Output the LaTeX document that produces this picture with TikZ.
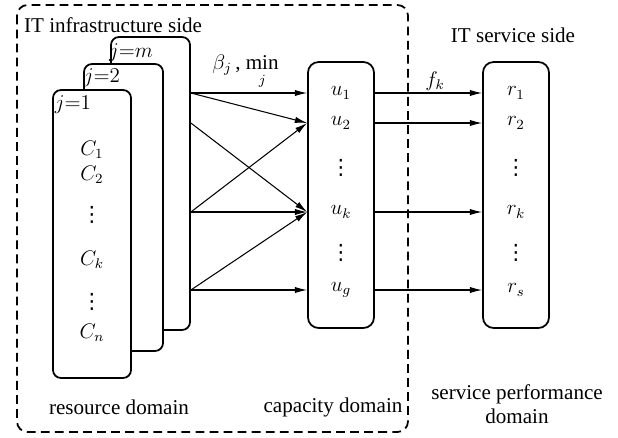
\documentclass[tikz,border=0pt]{standalone}
\usepackage{fontspec}
\setmainfont{Liberation Serif}
\newfontfamily\dotsfont{DejaVu Sans}
\usetikzlibrary{positioning,arrows.meta}

\newcommand{\vdotsym}{{\dotsfont ⋮}}

\tikzset{
  card/.style={draw,line width=1pt,fill=white,rounded corners=4.5pt,inner sep=0pt},
  dombox/.style={draw,line width=1pt,rounded corners=6pt,inner sep=0pt,minimum width=1.32cm,minimum height=5.32cm},
  lbl/.style={font=\large,inner sep=1pt},
  link/.style={line width=0.6pt,-{Latex[length=7pt,width=3.6pt]}}
}

\begin{document}
\begin{tikzpicture}[x=0.02cm,y=-0.02cm]
		%\draw[help lines,step=20] (0,0) grid (618,437);
		\useasboundingbox (0,0) rectangle (618,437);
		\draw[line width=1pt,dash pattern=on 5pt off 3pt,rounded corners=6pt] (17,5) rectangle (408,432);
		\node[lbl,anchor=west] (infra) at (22,25) {IT infrastructure side};
		\node[lbl] (itserv) at (513,35) {IT service side};

		% resource domain
		\node[card,minimum width=1.58cm,minimum height=5.86cm] (cardm) at (150.5,183.5) {};
		\node[card,minimum width=1.58cm,minimum height=5.74cm] (card2) at (123.5,207.5) {};
		\node[card,minimum width=1.56cm,minimum height=5.76cm] (card1) at (92,234) {};
		\node[lbl] (jm) at (131,53) {$j{=}m$};
		\node[lbl] (j2) at (102,78) {$j{=}2$};
		\node[lbl] (j1) at (73,105) {$j{=}1$};
		\node[lbl] (c1) at (92,150) {$C_1$};
		\node[lbl] (c2) at (92,175) {$C_2$};
		\node[lbl] (cd1) at (92,215) {\vdotsym};
		\node[lbl] (ck) at (92,260) {$C_k$};
		\node[lbl] (cd2) at (92,302) {\vdotsym};
		\node[lbl] (cn) at (92,333) {$C_n$};
		\node[lbl] (resdom) at (119,407) {resource domain};

		% capacity domain
		\node[dombox] (cap) at (341,195) {};
		\node[lbl] (u1) at (341,93) {$u_1$};
		\node[lbl] (u2) at (341,123) {$u_2$};
		\node[lbl] (ud1) at (341,168) {\vdotsym};
		\node[lbl] (uk) at (341,212) {$u_k$};
		\node[lbl] (ud2) at (341,253) {\vdotsym};
		\node[lbl] (ug) at (341,290) {$u_g$};
		\node[lbl] (capdom) at (333,407) {capacity domain};

		% service performance domain
		\node[dombox] (serv) at (516,195) {};
		\node[lbl] (r1) at (516,93) {$r_1$};
		\node[lbl] (r2) at (516,123) {$r_2$};
		\node[lbl] (rd1) at (516,168) {\vdotsym};
		\node[lbl] (rk) at (516,212) {$r_k$};
		\node[lbl] (rd2) at (516,253) {\vdotsym};
		\node[lbl] (rs) at (516,290) {$r_s$};
		\node[lbl,align=center] (servdom) at (517,404) {service performance\\domain};

		\draw[link] (cardm.east |- u1) -- node[lbl,above=1pt,pos=0.47] (beta) {$\beta_j$\,, $\min\limits_{\raisebox{-2.5pt}{$\scriptstyle j$}}$} (cap.west |- u1);
		\draw[link] (cardm.east |- u1) -- (cap.west |- u2);
		\draw[link] (cardm.east |- u2) -- (cap.west |- uk);
		\draw[link] (cardm.east |- uk) -- (cap.west |- u2);
		\draw[link] (cardm.east |- uk) -- (cap.west |- uk);
		\draw[link] (cardm.east |- ug) -- (cap.west |- uk);
		\draw[link] (cardm.east |- ug) -- (cap.west |- ug);

		\draw[link] (cap.east |- u1) -- node[lbl,above,pos=0.56] (fk) {$f_k$} (serv.west |- r1);
		\draw[link] (cap.east |- u2) -- (serv.west |- r2);
		\draw[link] (cap.east |- uk) -- (serv.west |- rk);
		\draw[link] (cap.east |- ug) -- (serv.west |- rs);
\end{tikzpicture}
\end{document}
